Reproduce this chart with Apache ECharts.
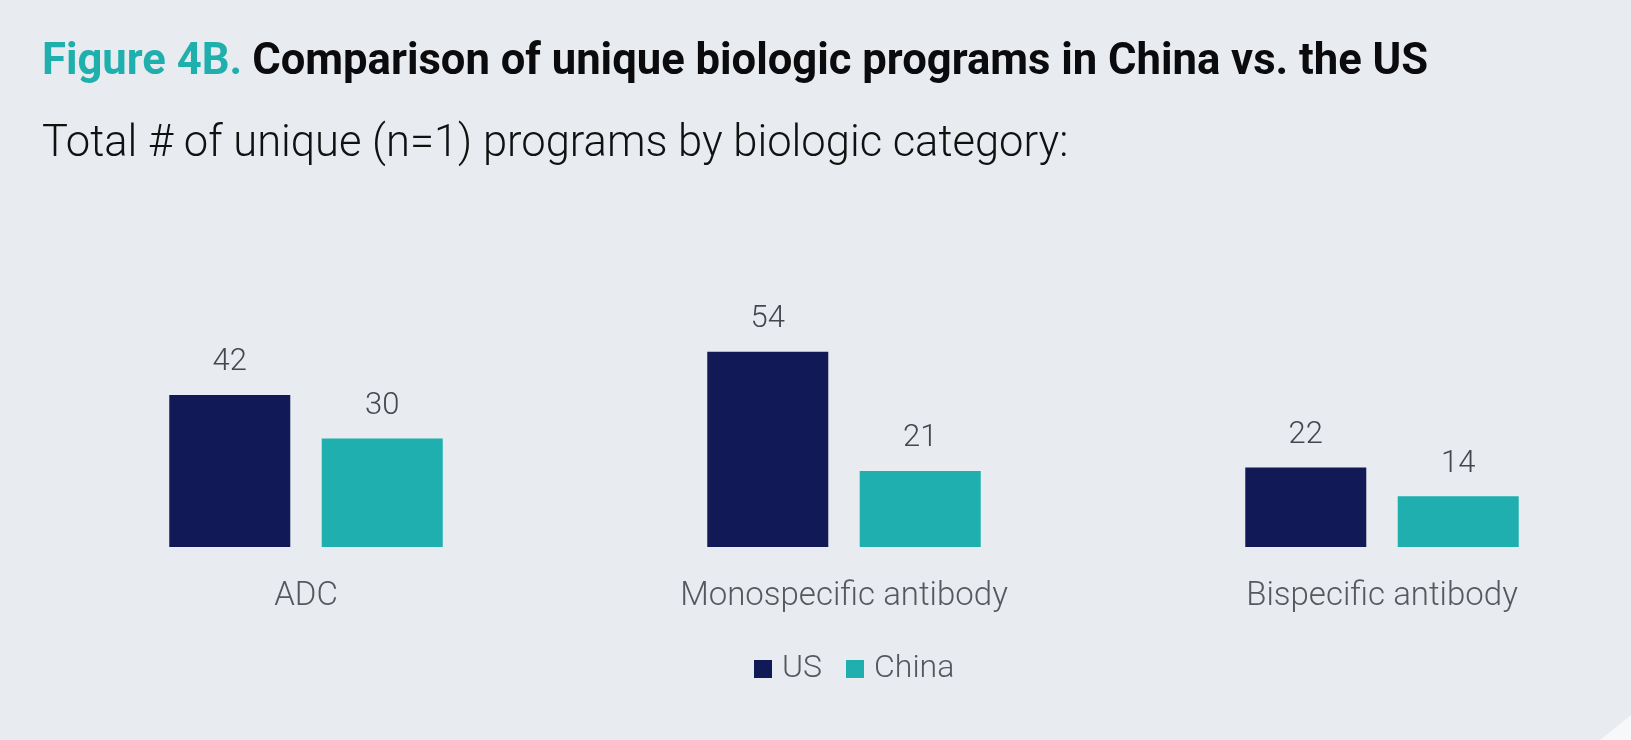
<!DOCTYPE html>
<html>
<head>
<meta charset="utf-8">
<title>Figure 4B</title>
<script src="https://cdn.jsdelivr.net/npm/echarts@6/dist/echarts.min.js"></script>
<style>
    html, body { margin: 0; padding: 0; background: #e8ebef; }
    #chart { width: 1631px; height: 740px; }
</style>
</head>
<body>
<div id="chart"></div>
<script>
// 数据 ==========================================
const categories = ['ADC', 'Monospecific antibody', 'Bispecific antibody'];
const seriesNames = ['US', 'China'];
const usValues = [42, 54, 22];
const chinaValues = [30, 21, 14];

const NAVY = '#111a57';
const TEAL = '#1eafae';
const FONT = 'Roboto';

const chart = echarts.init(document.getElementById('chart'));

function barSeries(name, values, color) {
    return {
        name: name,
        type: 'bar',
        data: values,
        barWidth: 121,
        barGap: '26%',
        itemStyle: { color: color },
        label: {
            show: true,
            position: 'top',
            distance: 17,
            color: '#44474d',
            fontFamily: FONT,
            fontWeight: 300,
            fontSize: 31
        }
    };
}

const option = {
    backgroundColor: '#e8ebef',
    animation: false,
    title: [{
        text: '{a|Figure 4B.}  {b|Comparison of unique biologic programs in China vs. the US}',
        left: 37,
        top: 36,
        textStyle: {
            rich: {
                a: { color: '#1fb0ad', fontFamily: FONT, fontWeight: 'bold', fontSize: 43.6 },
                b: { color: '#0b0b0d', fontFamily: FONT, fontWeight: 'bold', fontSize: 43.6 }
            }
        }
    }, {
        text: 'Total # of unique (n=1) programs by biologic category:',
        left: 37,
        top: 118,
        textStyle: { color: '#111', fontFamily: FONT, fontWeight: 300, fontSize: 43.5 }
    }],
    legend: {
        data: seriesNames,
        left: 749,
        top: 648,
        itemWidth: 18,
        itemHeight: 18,
        itemGap: 24,
        icon: 'rect',
        textStyle: { color: '#55585e', fontFamily: FONT, fontWeight: 300, fontSize: 32, padding: [0, 0, 0, 5] }
    },
    grid: { left: 37, top: 330, width: 1614, height: 217, outerBoundsMode: 'none', containLabel: false },
    xAxis: {
        type: 'category',
        data: categories,
        axisLine: { show: false },
        axisTick: { show: false },
        axisLabel: { margin: 33, color: '#55585e', fontFamily: FONT, fontWeight: 300, fontSize: 33 }
    },
    yAxis: {
        type: 'value',
        min: 0,
        max: 60,
        show: false
    },
    series: [
        barSeries(seriesNames[0], usValues, NAVY),
        barSeries(seriesNames[1], chinaValues, TEAL)
    ],
    graphic: [{
        // 右下角折角
        type: 'polygon',
        shape: { points: [[1631, 715], [1631, 740], [1600, 740]] },
        style: { fill: '#f7f8fa' }
    }]
};
chart.setOption(option);
</script>
</body>
</html>
